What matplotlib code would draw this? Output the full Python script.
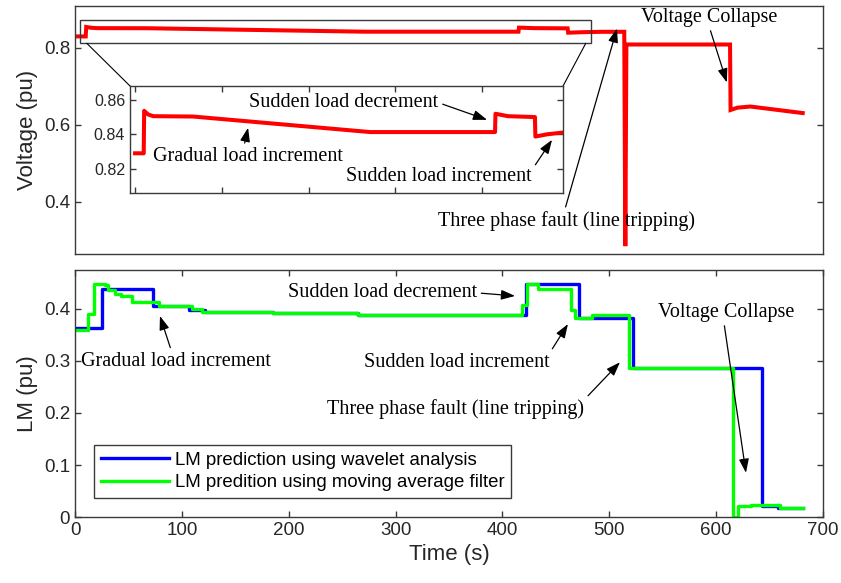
import numpy as np
import matplotlib.pyplot as plt
from matplotlib.patches import Rectangle, ConnectionPatch

# bus voltage (pu)
volt_t = [0, 10, 10.5, 15, 21, 67, 271, 415, 415.5, 430, 461, 461.5, 475,
          493, 514, 515, 516, 613, 613.5, 620, 632, 681]
volt_v = [0.829, 0.829, 0.8536, 0.8515, 0.8505, 0.8503, 0.8413, 0.8413,
          0.8519, 0.8505, 0.8500, 0.8387, 0.8400, 0.8410, 0.8410, 0.2845,
          0.808, 0.808, 0.638, 0.644, 0.647, 0.630]

# loading margin, step changes (time of change, new value)
wav_t = [0, 25.5, 72.7, 106.4, 122, 185, 265, 422, 472, 522.5, 642.6, 658, 681]
wav_v = [0.363, 0.438, 0.406, 0.399, 0.394, 0.392, 0.389, 0.449, 0.383,
         0.286, 0.022, 0.017, 0.017]

maf_t = [0, 12.5, 18, 28, 31, 37.4, 42.7, 53.6, 78.3, 109.8, 119, 185, 265,
         418, 423.3, 433.6, 463.9, 468, 483.5, 518.7, 615.4, 620.7, 633, 660, 681]
maf_v = [0.36, 0.39, 0.449, 0.447, 0.437, 0.428, 0.425, 0.414, 0.406, 0.400,
         0.394, 0.392, 0.389, 0.4077, 0.449, 0.4385, 0.398, 0.382, 0.389,
         0.286, 0.0, 0.021, 0.023, 0.017, 0.017]

leg_labels = ['LM prediction using wavelet analysis',
              'LM predition using moving average filter']

SERIF = 'Liberation Serif'
plt.rcParams['font.family'] = ['Liberation Sans', 'DejaVu Sans']
edge = '#3a3a3a'


def style(ax, fs=13.5):
    for s in ax.spines.values():
        s.set_color(edge)
        s.set_linewidth(1.0)
    ax.tick_params(direction='in', length=4, width=1.0, colors=edge,
                   labelcolor='#262626', labelsize=fs,
                   top=True, right=True)


def note(ax, txt, xy, xytext, rel=(0.5, 0.5)):
    ax.annotate(txt, xy=xy, xytext=xytext, ha='center', va='center',
                family=SERIF, fontsize=14.5, color='black', zorder=6,
                arrowprops=dict(arrowstyle='-|>,head_length=0.7,head_width=0.25',
                                color='black', lw=0.9, mutation_scale=12,
                                relpos=rel, shrinkA=1, shrinkB=0))


fig = plt.figure(figsize=(8.41, 5.83), dpi=100)
ax1 = fig.add_axes([0.0892, 0.5643, 0.8894, 0.4254])
ax2 = fig.add_axes([0.0892, 0.1132, 0.8894, 0.4237])
axin = fig.add_axes([0.1546, 0.6690, 0.5149, 0.1835])

# top: voltage
ax1.plot(volt_t, volt_v, color='#ff0000', lw=2.9, solid_joinstyle='miter')
ax1.set_xlim(0, 700)
ax1.set_ylim(0.264, 0.908)
ax1.set_yticks([0.4, 0.6, 0.8])
ax1.set_yticklabels(['0.4', '0.6', '0.8'])
ax1.set_xticks([])
style(ax1)
ax1.set_ylabel('Voltage (pu)', fontsize=16, color='#262626')

ax1.add_patch(Rectangle((4.7, 0.8112), 478.2, 0.06, fill=False,
                        edgecolor=edge, lw=1.0, zorder=4))
note(ax1, 'Voltage Collapse', (610, 0.7095), (593.5, 0.879), (0.5, 0))
note(ax1, 'Three phase fault (line tripping)', (507.2, 0.8495),
     (460.4, 0.3497), (0.49, 1))

# inset zoom
axin.plot(volt_t, volt_v, color='#ff0000', lw=2.9)
axin.set_xlim(-5.8, 493.4)
axin.set_ylim(0.806, 0.868)
axin.set_xticks([0, 100, 200, 300, 400])
axin.set_xticklabels([])
axin.set_yticks([0.82, 0.84, 0.86])
axin.set_yticklabels(['0.82', '0.84', '0.86'])
style(axin, fs=11.5)
axin.set_zorder(5)
note(axin, 'Sudden load decrement', (405.8, 0.8484), (240.9, 0.8583), (1, 0.5))
note(axin, 'Gradual load increment', (130.3, 0.8438), (129.7, 0.8270), (0.48, 1))
note(axin, 'Sudden load increment', (480.7, 0.8368), (350.4, 0.8154), (1, 0.85))

for ta, cb in [(11, (0, 1)), (478, (1, 1))]:
    con = ConnectionPatch(xyA=(ta, 0.8112), coordsA=ax1.transData,
                          xyB=cb, coordsB=axin.transAxes,
                          color='black', lw=0.8)
    fig.add_artist(con)

# bottom: loading margin
ax2.plot(wav_t, wav_v, drawstyle='steps-post', color='#0000ff', lw=2.4,
         label=leg_labels[0])
ax2.plot(maf_t, maf_v, drawstyle='steps-post', color='#00ff00', lw=2.4,
         label=leg_labels[1])
ax2.set_xlim(0, 700)
ax2.set_ylim(0, 0.475)
ax2.set_xticks(np.arange(0, 701, 100))
ax2.set_yticks([0, 0.1, 0.2, 0.3, 0.4])
ax2.set_yticklabels(['0', '0.1', '0.2', '0.3', '0.4'])
style(ax2)
ax2.set_xlabel('Time (s)', fontsize=16, color='#262626')
ax2.set_ylabel('LM (pu)', fontsize=16, color='#262626')

note(ax2, 'Sudden load decrement', (411.8, 0.4251), (287.8, 0.431), (1, 0.5))
note(ax2, 'Gradual load increment', (79.5, 0.3865), (94.0, 0.2995), (0.48, 1))
note(ax2, 'Sudden load increment', (461.3, 0.371), (357.5, 0.2976), (1, 1))
note(ax2, 'Three phase fault (line tripping)', (510, 0.2976), (356.5, 0.2068),
     (1, 1))
note(ax2, 'Voltage Collapse', (627.9, 0.085), (609.7, 0.394), (0.48, 0))

leg = ax2.legend(loc='lower left', bbox_to_anchor=(0.0254, 0.077),
                 borderaxespad=0, fontsize=13.4, handlelength=3.7,
                 handletextpad=0.3, labelspacing=0.3, borderpad=0.35,
                 fancybox=False, framealpha=1)
leg.get_frame().set_edgecolor(edge)
leg.get_frame().set_linewidth(1.0)

fig.savefig('out.png', dpi=100)
